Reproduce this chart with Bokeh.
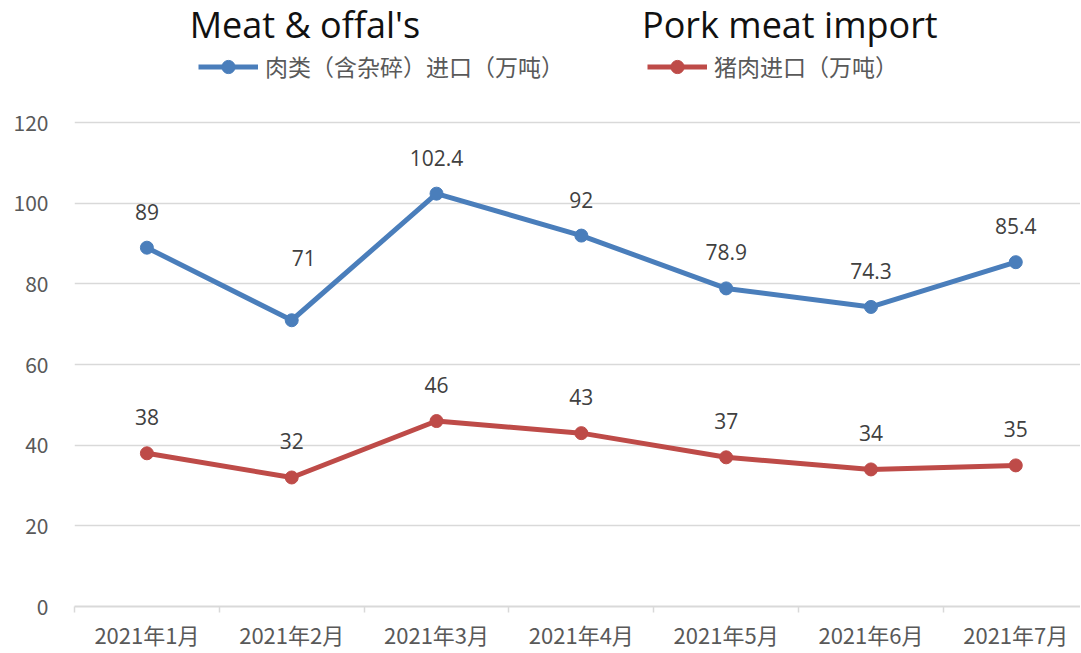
from bokeh.plotting import figure
from bokeh.models import ColumnDataSource, Range1d, FixedTicker, Legend, LegendItem, Label
from bokeh.embed import file_html
from bokeh.resources import INLINE
from bokeh.core.properties import value

# ---------------- data ----------------
months = ["2021年1月", "2021年2月", "2021年3月", "2021年4月", "2021年5月", "2021年6月", "2021年7月"]
meat = [89, 71, 102.4, 92, 78.9, 74.3, 85.4]
pork = [38, 32, 46, 43, 37, 34, 35]
y_ticks = [0, 20, 40, 60, 80, 100, 120]
meat_name = "肉类（含杂碎）进口（万吨）"
pork_name = "猪肉进口（万吨）"
meat_en = "Meat & offal's"
pork_en = "Pork meat import"

# ---------------- style / layout ----------------
BLUE = "#4a7ebb"
RED = "#be4b48"
GRID = "#d9d9d9"
AXIS_TXT = "#595959"
LBL_TXT = "#404040"
CJK = "Noto Sans CJK SC"

W, H = 1080, 652
X_START, X_END = -0.5, 6.447
Y_START, Y_END = 0, 150.31

xs = list(range(len(months)))

def fmt(v):
    return ("%g" % v)

# label nudges (screen px): default above the point, one moved label
meat_dx = [0] * len(meat)
meat_dy = [-36] * len(meat)
meat_dx[1] = 12
meat_dy[1] = -62
pork_dx = [0] * len(pork)
pork_dy = [-36] * len(pork)

src = ColumnDataSource(dict(
    x=xs, meat=meat, pork=pork,
    meat_lbl=[fmt(v) for v in meat], pork_lbl=[fmt(v) for v in pork],
    meat_dx=meat_dx, meat_dy=meat_dy, pork_dx=pork_dx, pork_dy=pork_dy,
))

p = figure(width=W, height=H,
           x_range=Range1d(X_START, X_END), y_range=Range1d(Y_START, Y_END),
           output_backend="svg", toolbar_location=None,
           min_border_left=74, min_border_right=0, min_border_top=0, min_border_bottom=0)
p.outline_line_color = None
p.background_fill_color = "white"
p.border_fill_color = "white"

# grid
p.xgrid.visible = False
p.ygrid.ticker = FixedTicker(ticks=y_ticks)
p.ygrid.grid_line_color = GRID
p.ygrid.grid_line_width = 1.3

# y axis
p.yaxis.ticker = FixedTicker(ticks=y_ticks)
p.yaxis.axis_line_color = None
p.yaxis.major_tick_line_color = None
p.yaxis.minor_tick_line_color = None
p.yaxis.major_tick_out = 0
p.yaxis.major_label_standoff = 26
p.yaxis.major_label_text_font = CJK
p.yaxis.major_label_text_font_size = "21px"
p.yaxis.major_label_text_color = AXIS_TXT

# x axis (categories at integer positions, boundary ticks between them)
p.xaxis.ticker = FixedTicker(ticks=xs, minor_ticks=[i - 0.5 for i in range(len(months) + 1)])
p.xaxis.major_label_overrides = {i: m for i, m in zip(xs, months)}
p.xaxis.major_tick_line_color = None
p.xaxis.major_tick_out = 0
p.xaxis.major_tick_in = 0
p.xaxis.minor_tick_out = 6
p.xaxis.minor_tick_in = 0
p.xaxis.minor_tick_line_color = GRID
p.xaxis.minor_tick_line_width = 1.5
p.xaxis.axis_line_color = GRID
p.xaxis.axis_line_width = 2
p.xaxis.major_label_standoff = 5
p.xaxis.major_label_text_font = CJK
p.xaxis.major_label_text_font_size = "22px"
p.xaxis.major_label_text_color = AXIS_TXT

# series
l1 = p.line("x", "meat", source=src, line_color=BLUE, line_width=5)
s1 = p.scatter("x", "meat", source=src, size=13, fill_color=BLUE, line_color=BLUE)
l2 = p.line("x", "pork", source=src, line_color=RED, line_width=5)
s2 = p.scatter("x", "pork", source=src, size=13, fill_color=RED, line_color=RED)

# data labels
p.text("x", "meat", text="meat_lbl", source=src, x_offset="meat_dx", y_offset="meat_dy",
       text_align="center", text_baseline="middle",
       text_font=value("Open Sans"), text_font_size="21px", text_color=LBL_TXT)
p.text("x", "pork", text="pork_lbl", source=src, x_offset="pork_dx", y_offset="pork_dy",
       text_align="center", text_baseline="middle",
       text_font=value("Open Sans"), text_font_size="21px", text_color=LBL_TXT)

# legends (one per series, placed separately)
def make_legend(name, rends, loc):
    return Legend(items=[LegendItem(label=name, renderers=rends)], location=loc,
                  orientation="horizontal", glyph_width=60, glyph_height=33,
                  label_standoff=7, padding=0, margin=0, spacing=0,
                  border_line_color=None, background_fill_alpha=0,
                  label_text_font=CJK, label_text_font_size="23px",
                  label_text_color=AXIS_TXT)

p.add_layout(make_legend(meat_name, [l1, s1], (124, 523)))
p.add_layout(make_legend(pork_name, [l2, s2], (573, 523)))

# english headings
p.add_layout(Label(x=1.091, y=144.3, text=meat_en, text_align="center",
                   text_baseline="alphabetic", text_font="Open Sans",
                   text_font_size="36px", text_color="#111111"))
p.add_layout(Label(x=4.44, y=144.3, text=pork_en, text_align="center",
                   text_baseline="alphabetic", text_font="Open Sans",
                   text_font_size="36px", text_color="#111111"))

with open("out.html", "w", encoding="utf-8") as f:
    f.write(file_html(p, INLINE))
